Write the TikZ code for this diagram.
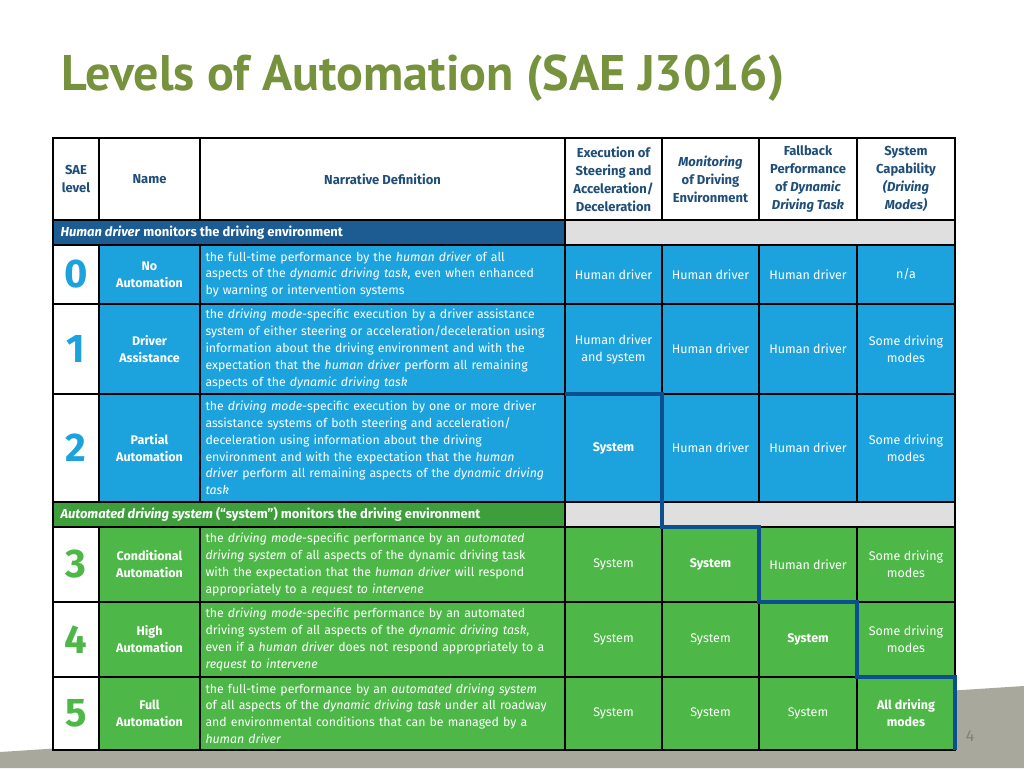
\documentclass[tikz,border=0pt]{standalone}
\usepackage{fontspec}
\setmainfont{Fira Sans}
\newfontfamily\titlefont{PT Sans}
\usetikzlibrary{positioning}
\definecolor{Olive}{HTML}{76923C}
\definecolor{Navy}{HTML}{1F4E79}
\definecolor{Band}{HTML}{1D5C92}
\definecolor{Sky}{HTML}{1CA3DE}
\definecolor{Leaf}{HTML}{4DB848}
\definecolor{LeafBand}{HTML}{3E9E3B}
\definecolor{Edge}{HTML}{0B4F91}
\definecolor{Ground}{HTML}{A8A89C}

% one table cell: name, x1, y1, x2, y2, fill, text
\newcommand{\cellat}[7]{%
  \node[cellbox, fill=#6, minimum width={(#4)-(#2)}, minimum height={(#5)-(#3)}] (#1) at (#2,#3) {#7};}

\begin{document}
\begin{tikzpicture}[x=1pt, y=-1pt,
    cellbox/.style={draw=black, line width=1.4pt, inner sep=0pt, outer sep=0pt, anchor=north west,
      align=center, font=\fontsize{12.5}{17}\selectfont, text=white},
    headbox/.style={cellbox, text=Navy, font=\fontsize{13}{18}\selectfont\bfseries},
    levelbox/.style={cellbox, font=\fontsize{40}{42}\selectfont\bfseries},
    defbox/.style={cellbox, text width=354pt, align=left, font=\fontsize{12.3}{16.8}\selectfont}]
  \useasboundingbox (0,0) rectangle (1024,768);
  \fill[Ground] (0,752) -- (1024,686) -- (1024,768) -- (0,768) -- cycle;
  \node[anchor=west, text=Olive, font=\titlefont\fontsize{50}{54}\selectfont\bfseries] (title) at (58,78) {Levels of Automation (SAE J3016)};
  \node[text=gray, font=\fontsize{16}{18}\selectfont] (page) at (970,736) {4};

  % header
  \cellat{hLvl}{53}{138}{99}{220}{white}{}
  \node[headbox, draw=none, anchor=center] (hLvlT) at (hLvl) {SAE\\level};
  \cellat{hName}{99}{138}{200}{220}{white}{}
  \node[headbox, draw=none, anchor=center] at (hName) {Name};
  \cellat{hDef}{200}{138}{565}{220}{white}{}
  \node[headbox, draw=none, anchor=center] at (hDef) {Narrative Definition};
  \cellat{hExe}{565}{138}{662}{220}{white}{}
  \node[headbox, draw=none, anchor=center] at (hExe) {Execution of\\Steering and\\Acceleration/\\Deceleration};
  \cellat{hMon}{662}{138}{759}{220}{white}{}
  \node[headbox, draw=none, anchor=center] at (hMon) {\textit{Monitoring}\\of Driving\\Environment};
  \cellat{hFal}{759}{138}{857}{220}{white}{}
  \node[headbox, draw=none, anchor=center] at (hFal) {Fallback\\Performance\\of \textit{Dynamic}\\\textit{Driving Task}};
  \cellat{hSys}{857}{138}{955}{220}{white}{}
  \node[headbox, draw=none, anchor=center] at (hSys) {System\\Capability\\\textit{(Driving}\\\textit{Modes)}};

  % human driver band
  \cellat{bandA}{53}{220}{565}{245}{Band}{}
  \node[anchor=west, text=white, font=\fontsize{13}{15}\selectfont\bfseries] (bandAT) at (57,232.5) {\textit{Human driver} monitors the driving environment};
  \cellat{bandAg}{565}{220}{955}{245}{gray!25}{}

  % level 0
  \cellat{l0}{53}{245}{99}{304}{white}{}
  \node[levelbox, draw=none, anchor=center, text=Sky] at (l0) {0};
  \cellat{n0}{99}{245}{200}{304}{Sky}{\textbf{No}\\\textbf{Automation}}
  \cellat{d0}{200}{245}{565}{304}{Sky}{}
  \node[defbox, draw=none, anchor=center] at (d0) {the full-time performance by the \textit{human driver} of all\\aspects of the \textit{dynamic driving task}, even when enhanced\\by warning or intervention systems};
  \cellat{e0}{565}{245}{662}{304}{Sky}{Human driver}
  \cellat{m0}{662}{245}{759}{304}{Sky}{Human driver}
  \cellat{f0}{759}{245}{857}{304}{Sky}{Human driver}
  \cellat{s0}{857}{245}{955}{304}{Sky}{n/a}

  % level 1
  \cellat{l1}{53}{304}{99}{394}{white}{}
  \node[levelbox, draw=none, anchor=center, text=Sky] at (l1) {1};
  \cellat{n1}{99}{304}{200}{394}{Sky}{\textbf{Driver}\\\textbf{Assistance}}
  \cellat{d1}{200}{304}{565}{394}{Sky}{}
  \node[defbox, draw=none, anchor=center] at (d1) {the \textit{driving mode}-specific execution by a driver assistance\\system of either steering or acceleration/deceleration using\\information about the driving environment and with the\\expectation that the \textit{human driver} perform all remaining\\aspects of the \textit{dynamic driving task}};
  \cellat{e1}{565}{304}{662}{394}{Sky}{Human driver\\and system}
  \cellat{m1}{662}{304}{759}{394}{Sky}{Human driver}
  \cellat{f1}{759}{304}{857}{394}{Sky}{Human driver}
  \cellat{s1}{857}{304}{955}{394}{Sky}{Some driving\\modes}

  % level 2
  \cellat{l2}{53}{394}{99}{502}{white}{}
  \node[levelbox, draw=none, anchor=center, text=Sky] at (l2) {2};
  \cellat{n2}{99}{394}{200}{502}{Sky}{\textbf{Partial}\\\textbf{Automation}}
  \cellat{d2}{200}{394}{565}{502}{Sky}{}
  \node[defbox, draw=none, anchor=center] at (d2) {the \textit{driving mode}-specific execution by one or more driver\\assistance systems of both steering and acceleration/\\deceleration using information about the driving\\environment and with the expectation that the \textit{human}\\\textit{driver} perform all remaining aspects of the \textit{dynamic driving}\\\textit{task}};
  \cellat{e2}{565}{394}{662}{502}{Sky}{\textbf{System}}
  \cellat{m2}{662}{394}{759}{502}{Sky}{Human driver}
  \cellat{f2}{759}{394}{857}{502}{Sky}{Human driver}
  \cellat{s2}{857}{394}{955}{502}{Sky}{Some driving\\modes}

  % automated system band
  \cellat{bandB}{53}{502}{565}{527}{LeafBand}{}
  \node[anchor=west, text=white, font=\fontsize{13}{15}\selectfont\bfseries] (bandBT) at (57,514.5) {\textit{Automated driving system} (“system”) monitors the driving environment};
  \cellat{bandBg}{565}{502}{955}{527}{gray!25}{}

  % level 3
  \cellat{l3}{53}{527}{99}{602}{white}{}
  \node[levelbox, draw=none, anchor=center, text=Leaf] at (l3) {3};
  \cellat{n3}{99}{527}{200}{602}{Leaf}{\textbf{Conditional}\\\textbf{Automation}}
  \cellat{d3}{200}{527}{565}{602}{Leaf}{}
  \node[defbox, draw=none, anchor=center] at (d3) {the \textit{driving mode}-specific performance by an \textit{automated}\\\textit{driving system} of all aspects of the dynamic driving task\\with the expectation that the \textit{human driver} will respond\\appropriately to a \textit{request to intervene}};
  \cellat{e3}{565}{527}{662}{602}{Leaf}{System}
  \cellat{m3}{662}{527}{759}{602}{Leaf}{\textbf{System}}
  \cellat{f3}{759}{527}{857}{602}{Leaf}{Human driver}
  \cellat{s3}{857}{527}{955}{602}{Leaf}{Some driving\\modes}

  % level 4
  \cellat{l4}{53}{602}{99}{677}{white}{}
  \node[levelbox, draw=none, anchor=center, text=Leaf] at (l4) {4};
  \cellat{n4}{99}{602}{200}{677}{Leaf}{\textbf{High}\\\textbf{Automation}}
  \cellat{d4}{200}{602}{565}{677}{Leaf}{}
  \node[defbox, draw=none, anchor=center] at (d4) {the \textit{driving mode}-specific performance by an automated\\driving system of all aspects of the \textit{dynamic driving task},\\even if a \textit{human driver} does not respond appropriately to a\\\textit{request to intervene}};
  \cellat{e4}{565}{602}{662}{677}{Leaf}{System}
  \cellat{m4}{662}{602}{759}{677}{Leaf}{System}
  \cellat{f4}{759}{602}{857}{677}{Leaf}{\textbf{System}}
  \cellat{s4}{857}{602}{955}{677}{Leaf}{Some driving\\modes}

  % level 5
  \cellat{l5}{53}{677}{99}{750}{white}{}
  \node[levelbox, draw=none, anchor=center, text=Leaf] at (l5) {5};
  \cellat{n5}{99}{677}{200}{750}{Leaf}{\textbf{Full}\\\textbf{Automation}}
  \cellat{d5}{200}{677}{565}{750}{Leaf}{}
  \node[defbox, draw=none, anchor=center] at (d5) {the full-time performance by an \textit{automated driving system}\\of all aspects of the \textit{dynamic driving task} under all roadway\\and environmental conditions that can be managed by a\\\textit{human driver}};
  \cellat{e5}{565}{677}{662}{750}{Leaf}{System}
  \cellat{m5}{662}{677}{759}{750}{Leaf}{System}
  \cellat{f5}{759}{677}{857}{750}{Leaf}{System}
  \cellat{s5}{857}{677}{955}{750}{Leaf}{\textbf{All driving}\\\textbf{modes}}

  % hand-over staircase
  \draw[Edge, line width=3.5pt] (e2.north west) -- (e2.north east) -- (m3.north west) -- (m3.north east)
    -- (f4.north west) -- (f4.north east) -- (s5.north west) -- (s5.north east) -- (s5.south east);
\end{tikzpicture}
\end{document}
